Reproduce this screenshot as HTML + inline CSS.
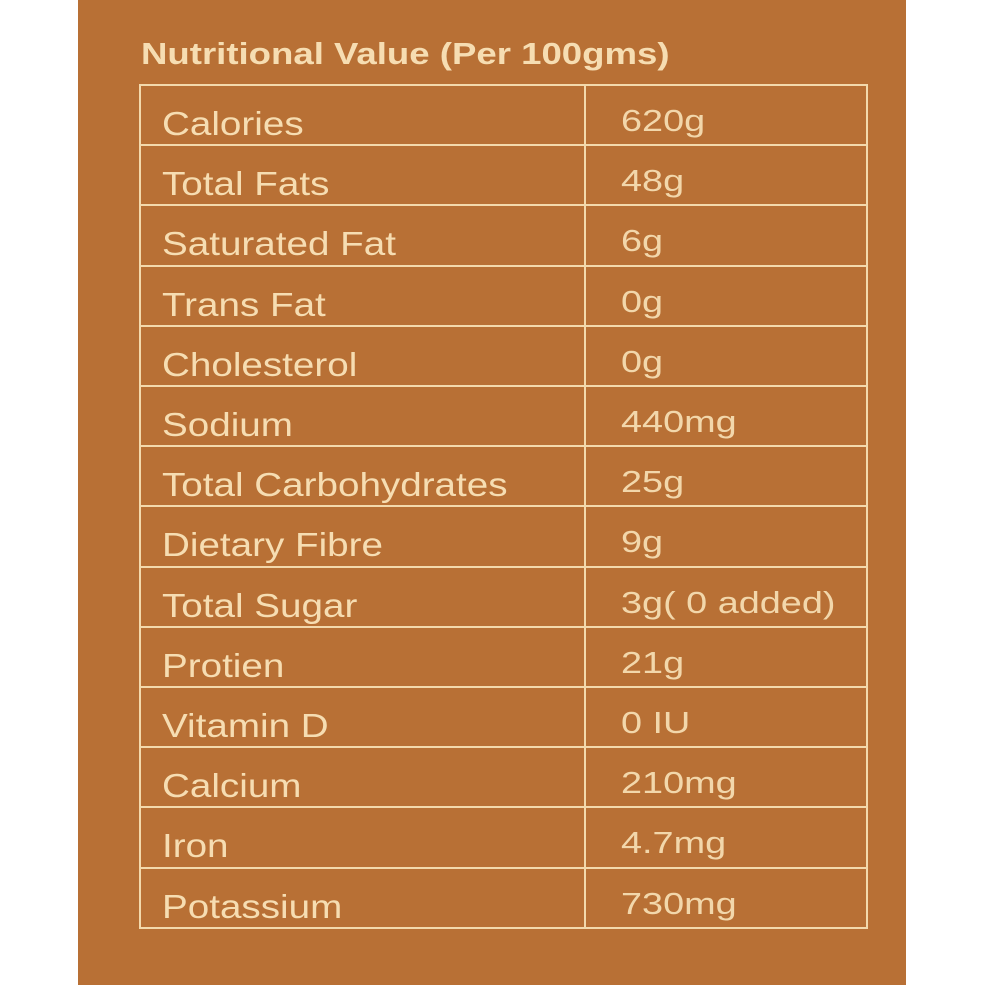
<!DOCTYPE html>
<html><head><style>
body{margin:0;width:985px;height:985px;background:#fff;position:relative;overflow:hidden;font-family:"Liberation Sans",sans-serif;}
#p{position:absolute;left:78px;top:0;width:828px;height:985px;background:#B87035;}
.t{position:absolute;color:#F6DDB2;white-space:nowrap;transform-origin:0 0;}
.h{position:absolute;left:139px;width:729px;height:2px;background:#F3D9AC;}
.v{position:absolute;top:85px;width:2px;height:844px;background:#F3D9AC;}
</style></head><body>
<div id="p"></div>
<div class="t" style="left:141px;top:36px;font-size:31px;font-weight:bold;transform:scaleX(1.18);">Nutritional Value (Per 100gms)</div>
<div class="v" style="left:139px"></div>
<div class="v" style="left:584px"></div>
<div class="v" style="left:866px"></div>
<div id="rows"></div>
<script>
var d=[["Calories","620g"],["Total Fats","48g"],["Saturated Fat","6g"],["Trans Fat","0g"],["Cholesterol","0g"],["Sodium","440mg"],["Total Carbohydrates","25g"],["Dietary Fibre","9g"],["Total Sugar","3g( 0 added)"],["Protien","21g"],["Vitamin D","0 IU"],["Calcium","210mg"],["Iron","4.7mg"],["Potassium","730mg"]];
var h="";
for(var i=0;i<=14;i++){h+='<div class="h" style="top:'+(85+i*60.2-1).toFixed(1)+'px"></div>';}
for(var i=0;i<14;i++){var y=85+i*60.2;
h+='<div class="t" style="left:162px;top:'+(y+20).toFixed(1)+'px;font-size:33px;transform:scaleX(1.17);">'+d[i][0]+'</div>';
h+='<div class="t" style="left:621px;top:'+(y+18).toFixed(1)+'px;font-size:31px;transform:scaleX(1.22);opacity:0.95;">'+d[i][1]+'</div>';}
document.getElementById("rows").innerHTML=h;
</script>
</body></html>
